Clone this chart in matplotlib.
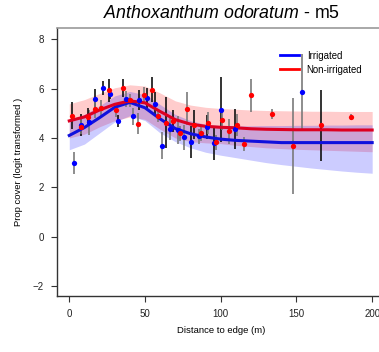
import numpy as np
import matplotlib
matplotlib.use('Agg')
import matplotlib.pyplot as plt

plt.rcParams['font.family'] = ['Liberation Sans', 'DejaVu Sans']
plt.rcParams['mathtext.fontset'] = 'custom'
plt.rcParams['mathtext.it'] = 'Liberation Sans:italic'
plt.rcParams['mathtext.rm'] = 'Liberation Sans'

# fitted curves
grid = [0, 10, 20, 30, 40, 50, 60, 70, 80, 90, 100, 110, 120, 130, 140,
        150, 160, 170, 180, 190, 200]
irr_fit = [4.10, 4.42, 4.82, 5.24, 5.44, 5.22, 4.77, 4.38, 4.17, 4.04, 3.95,
           3.90, 3.87, 3.84, 3.81, 3.81, 3.81, 3.81, 3.81, 3.81, 3.81]
irr_lo = [3.52, 3.75, 4.20, 4.65, 4.90, 4.70, 4.20, 3.85, 3.60, 3.42, 3.30,
          3.20, 3.10, 3.00, 2.92, 2.85, 2.78, 2.72, 2.66, 2.61, 2.57]
irr_hi = [4.66, 4.95, 5.30, 5.70, 5.88, 5.75, 5.35, 4.95, 4.70, 4.55, 4.50,
          4.49, 4.49, 4.50, 4.50, 4.51, 4.51, 4.52, 4.52, 4.53, 4.53]
non_fit = [4.69, 4.85, 5.13, 5.36, 5.50, 5.42, 5.07, 4.74, 4.56, 4.47, 4.43,
           4.41, 4.37, 4.35, 4.34, 4.33, 4.33, 4.33, 4.32, 4.32, 4.32]
non_lo = [4.00, 4.15, 4.45, 4.70, 4.85, 4.75, 4.35, 4.00, 3.85, 3.80, 3.77,
          3.70, 3.65, 3.60, 3.57, 3.54, 3.52, 3.50, 3.48, 3.46, 3.44]
non_hi = [5.38, 5.55, 5.80, 6.03, 6.15, 6.10, 5.82, 5.50, 5.33, 5.24, 5.19,
          5.16, 5.13, 5.11, 5.10, 5.09, 5.08, 5.08, 5.07, 5.07, 5.07]

# observed means with error bars
irr_x = [3.0, 7.5, 12.8, 17.2, 22.0, 27.0, 31.9, 37.2, 42.0, 46.2, 51.5,
         56.3, 61.2, 66.2, 71.5, 75.7, 80.5, 85.6, 90.9, 95.7, 100.5, 109.6,
         153.8]
irr_y = [3.00, 4.53, 4.63, 5.57, 6.02, 5.79, 4.69, 5.59, 4.88, 5.53, 5.61,
         5.38, 3.68, 4.36, 4.32, 4.02, 3.85, 4.07, 4.44, 3.80, 5.14, 4.37,
         5.84]
irr_err = [0.45, 0.45, 0.50, 0.40, 0.27, 0.20, 0.24, 0.32, 0.34, 0.40, 0.40,
           0.47, 0.54, 0.45, 0.55, 0.50, 0.65, 0.30, 0.50, 0.68, 1.32, 0.81,
           1.55]
irr_bar = ['grey', 'black', 'grey', 'black', 'black', 'black', 'black',
           'grey', 'grey', 'black', 'black', 'black', 'grey', 'grey', 'grey',
           'grey', 'black', 'grey', 'black', 'black', 'black', 'black', 'grey']

non_x = [2.0, 8.0, 12.1, 16.7, 20.7, 26.2, 30.6, 35.6, 40.3, 45.1, 49.5,
         54.3, 58.7, 64.0, 68.2, 72.8, 77.7, 82.3, 86.9, 91.7, 97.0, 101.0,
         105.4, 110.7, 115.5, 119.9, 133.8, 147.6, 166.5, 186.0]
non_y = [4.90, 4.45, 4.86, 5.18, 5.21, 5.92, 5.13, 6.02, 5.52, 4.58, 5.72,
         5.95, 4.90, 4.62, 4.68, 4.18, 5.19, 4.54, 4.18, 4.60, 3.83, 4.73,
         4.26, 4.53, 3.76, 5.72, 4.98, 3.67, 4.52, 4.83]
non_err = [0.54, 0.30, 0.37, 0.37, 0.34, 0.45, 0.30, 0.35, 0.25, 0.44, 0.33,
           0.50, 0.27, 1.04, 0.45, 0.30, 0.65, 0.60, 0.30, 0.45, 0.30, 0.40,
           0.50, 0.45, 0.29, 0.68, 0.20, 1.93, 1.44, 0.12]
non_bar = ['black', 'grey', 'black', 'grey', 'grey', 'black', 'grey', 'black',
           'grey', 'grey', 'grey', 'black', 'grey', 'black', 'black', 'grey',
           'grey', 'black', 'grey', 'grey', 'grey', 'grey', 'grey', 'grey',
           'grey', 'grey', 'grey', 'grey', 'black', 'grey']

xticks = [0, 50, 100, 150, 200]
yticks = [-2, 0, 2, 4, 6, 8]

fig = plt.figure(figsize=(3.79, 3.52), dpi=100)
ax = fig.add_axes([57.3 / 379, 1 - 296 / 352, 327 / 379, 268 / 352])

ax.fill_between(grid, non_lo, non_hi, color='red', alpha=0.2, lw=0, zorder=1)
ax.fill_between(grid, irr_lo, irr_hi, color='blue', alpha=0.2, lw=0, zorder=1)

def draw_points(xs, ys, errs, bars, col):
    for x, y, e, b in zip(xs, ys, errs, bars):
        ax.plot([x, x], [y - e, y + e], color='#7a7a7a' if b == 'grey' else '#111111',
                lw=1.2, zorder=2, solid_capstyle='butt')
    ax.plot(xs, ys, 'o', color=col, ms=3.8, mec='none', zorder=4)

draw_points(irr_x, irr_y, irr_err, irr_bar, '#0000ff')
draw_points(non_x, non_y, non_err, non_bar, '#ff0000')

ax.plot(grid, irr_fit, color='#1010dd', lw=2.2, zorder=3, label='Irrigated')
ax.plot(grid, non_fit, color='#dd0022', lw=2.2, zorder=3, label='Non-irrigated')

ax.set_xlim(-7.9, 208)
ax.set_ylim(-2.4, 8.45)
ax.set_xticks(xticks)
ax.set_yticks(yticks)
ax.tick_params(direction='out', length=4.5, width=0.8, labelsize=7,
               color='#333333', labelcolor='#222222', pad=5)
for s in ['left', 'bottom']:
    ax.spines[s].set_color('#333333')
    ax.spines[s].set_linewidth(1.0)
ax.spines['top'].set_color('#999999')
ax.spines['top'].set_linewidth(1.2)
ax.spines['right'].set_visible(False)

ax.set_xlabel('Distance to edge (m)', fontsize=6.8, labelpad=5)
ax.set_ylabel('Prop cover (logit transformed )', fontsize=6.8, labelpad=7)

fig.text(221 / 379, 1 - 14 / 352, r'$\mathit{Anthoxanthum\ odoratum}$ - m5',
         ha='center', va='center', fontsize=12.8)

leg_handles = [plt.Line2D([], [], color='blue', lw=2),
               plt.Line2D([], [], color='red', lw=2)]
fig.legend(leg_handles, ['Irrigated', 'Non-irrigated'], frameon=False,
           loc='upper left', bbox_to_anchor=(276 / 379, 1 - 47 / 352),
           fontsize=6.9, handlelength=2.0, handletextpad=0.8,
           labelspacing=0.4, borderaxespad=0)

fig.savefig('out.png', dpi=100)
